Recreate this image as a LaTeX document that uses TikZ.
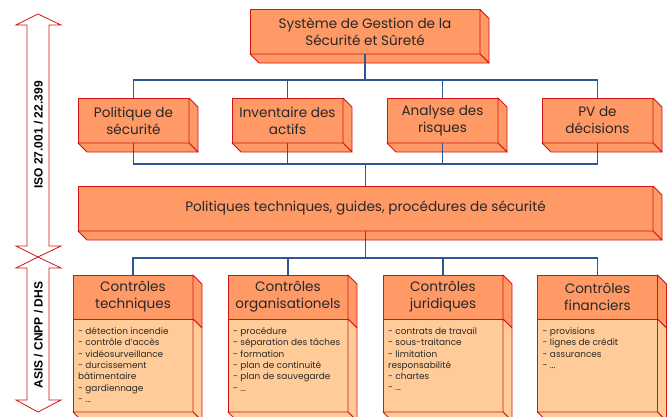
\documentclass[tikz,border=0pt]{standalone}
\usepackage{fontspec}
\setmainfont{Poppins}
\newfontfamily\arrowfont{Liberation Sans}
\usetikzlibrary{calc}
\definecolor{boxred}{RGB}{210,20,20}
\definecolor{salmon}{RGB}{255,153,102}
\definecolor{peach}{RGB}{255,204,153}
\definecolor{busblue}{RGB}{47,85,151}
\definecolor{txt}{RGB}{40,40,40}
\newcommand\extrR[2]{\filldraw[face,fill=#2] (#1.north east) -- ++(9,9) -- ($(#1.south east)+(9,9)$) -- (#1.south east) -- cycle;}
\newcommand\extrB[2]{\filldraw[face,fill=#2] (#1.south west) -- ++(9,9) -- ($(#1.south east)+(9,9)$) -- (#1.south east) -- cycle;}
\begin{document}
\begin{tikzpicture}[x=1pt,y=-1pt,
  face/.style={draw=boxred,line width=0.9pt,line join=round},
  mainbox/.style={draw=boxred,fill=salmon,line width=0.9pt,inner sep=0pt,outer sep=0pt,
    align=center,text=txt,font=\fontsize{13.6}{17}\selectfont},
  bodybox/.style={draw=boxred,fill=peach,line width=0.9pt,inner sep=0pt,outer sep=0pt},
  bodytext/.style={anchor=north west,align=left,inner sep=0pt,text=txt,
    font=\fontsize{8.9}{11.3}\selectfont},
  bus/.style={draw=busblue,line width=1.8pt},
  bigarrow/.style={draw=boxred,fill=white,line width=0.8pt,line join=miter},
  arrowlabel/.style={rotate=90,font=\arrowfont\bfseries\fontsize{12}{14}\selectfont,text=black}
]
\useasboundingbox (0,0) rectangle (672,416);

% left arrows
\draw[bigarrow] (38,14) -- (61,25) -- (49,25) -- (49,246) -- (61,246) -- (38,257) -- (16,246) -- (27,246) -- (27,25) -- (16,25) -- cycle;
\draw[bigarrow] (38,257) -- (61,268) -- (49,268) -- (49,400) -- (61,400) -- (38,412) -- (16,400) -- (27,400) -- (27,268) -- (16,268) -- cycle;
\node[arrowlabel] (iso) at (38.5,135) {ISO 27.001 / 22.399};
\node[arrowlabel] (asis) at (38.5,335) {ASIS / CNPP / DHS};

% top box
\node[mainbox,minimum width=230,minimum height=44.5] (top) at (365,31.75) {Système de Gestion de la\\Sécurité et Sûreté};
\extrR{top}{salmon}\extrB{top}{salmon}

% second row
\node[mainbox,minimum width=111,minimum height=45] (p1) at (133.5,120.5) {Politique de\\sécurité};
\node[mainbox,minimum width=111,minimum height=45] (p2) at (287.5,120.5) {Inventaire des\\actifs};
\node[mainbox,minimum width=111,minimum height=45] (p3) at (442.5,120.5) {Analyse des\\risques};
\node[mainbox,minimum width=111,minimum height=45] (p4) at (597.5,120.5) {PV de\\décisions};
\foreach \n in {p1,p2,p3,p4}{\extrR{\n}{salmon}\extrB{\n}{salmon}}

% policies bar
\node[mainbox,minimum width=575,minimum height=45] (pol) at (365.5,208.5) {Politiques techniques, guides, procédures de sécurité};
\extrR{pol}{salmon}\extrB{pol}{salmon}

% bottom row
\foreach \n/\cx/\title in {c1/133/{Contrôles\\techniques},c2/288/{Contrôles\\organisationels},c3/443/{Contrôles\\juridiques},c4/597.5/{Contrôles\\financiers}}{
  \node[mainbox,minimum width=120,minimum height=44,font=\fontsize{13.6}{17}\selectfont] (\n h) at (\cx,297) {\title};
  \node[bodybox,minimum width=120,minimum height=93] (\n b) at (\cx,365.5) {};
  \extrR{\n h}{salmon}\extrR{\n b}{peach}\extrB{\n b}{peach}
}
\node[bodytext] (t1) at ($(c1b.north west)+(5,8.5)$) {- détection incendie\\- contrôle d'accès\\- vidéosurveillance\\- durcissement\\bâtimentaire\\- gardiennage\\- ...};
\node[bodytext] (t2) at ($(c2b.north west)+(5,8.5)$) {- procédure\\- séparation des tâches\\- formation\\- plan de continuité\\- plan de sauvegarde\\- ...};
\node[bodytext] (t3) at ($(c3b.north west)+(5,8.5)$) {- contrats de travail\\- sous-traitance\\- limitation\\responsabilité\\- chartes\\- ...};
\node[bodytext] (t4) at ($(c4b.north west)+(5,8.5)$) {- provisions\\- lignes de crédit\\- assurances\\- ...};

% connectors
\coordinate (busA) at (0,80);
\coordinate (busB) at (0,164);
\coordinate (busC) at (0,258);
\draw[bus] (top.south) -- (top.south |- busA);
\draw[bus] (p1.north) -- (p1.north |- busA) -- (p4.north |- busA) -- (p4.north);
\draw[bus] (p2.north) -- (p2.north |- busA);
\draw[bus] (p3.north) -- (p3.north |- busA);
\draw[bus] (p1.south) -- (p1.south |- busB) -- (p4.south |- busB) -- (p4.south);
\draw[bus] (p2.south) -- (p2.south |- busB);
\draw[bus] (p3.south) -- (p3.south |- busB);
\draw[bus] (pol.north) -- (pol.north |- busB);
\draw[bus] (pol.south) -- (pol.south |- busC);
\draw[bus] (c1h.north) -- (c1h.north |- busC) -- (c4h.north |- busC) -- (c4h.north);
\draw[bus] (c2h.north) -- (c2h.north |- busC);
\draw[bus] (c3h.north) -- (c3h.north |- busC);
\end{tikzpicture}
\end{document}
